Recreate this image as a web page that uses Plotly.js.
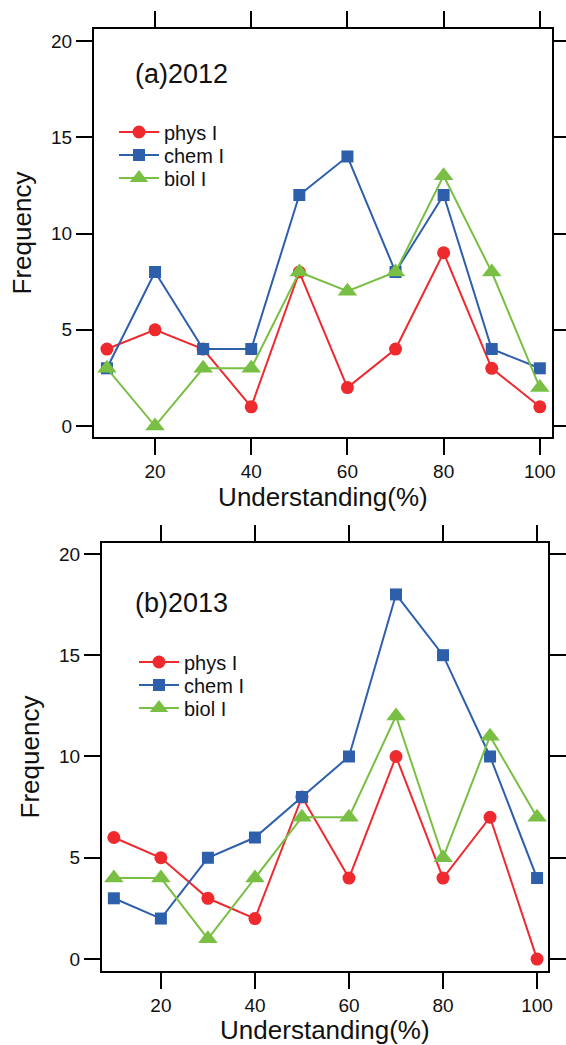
<!DOCTYPE html>
<html>
<head>
<meta charset="utf-8">
<script src="https://cdn.plot.ly/plotly-3.0.1.min.js"></script>
<style>html,body{margin:0;padding:0;background:#fff;}#chart{width:566px;height:1045px;}</style>
</head>
<body>
<div id="chart"></div>
<script>
// Understanding (%) categories
const understanding = [10, 20, 30, 40, 50, 60, 70, 80, 90, 100];
const seriesNames = ["phys I", "chem I", "biol I"];

// (a) 2012
const phys2012 = [4, 5, 4, 1, 8, 2, 4, 9, 3, 1];
const chem2012 = [3, 8, 4, 4, 12, 14, 8, 12, 4, 3];
const biol2012 = [3, 0, 3, 3, 8, 7, 8, 13, 8, 2];

// (b) 2013
const phys2013 = [6, 5, 3, 2, 8, 4, 10, 4, 7, 0];
const chem2013 = [3, 2, 5, 6, 8, 10, 18, 15, 10, 4];
const biol2013 = [4, 4, 1, 4, 7, 7, 12, 5, 11, 7];

const xTicks = [20, 40, 60, 80, 100];
const yTicks = [0, 5, 10, 15, 20];

const RED = "#ee2a2f", BLUE = "#2d5fab", GREEN = "#78bf44";
const FONT = "Liberation Sans, Arial, Helvetica, sans-serif";

function mk(y, name, color, symbol, size, xa, ya, legend) {
  return {
    x: understanding, y: y, name: name, type: "scatter", mode: "lines+markers",
    line: {color: color, width: 2},
    marker: {color: color, symbol: symbol, size: size},
    xaxis: xa, yaxis: ya, legend: legend, cliponaxis: false
  };
}

const data = [
  mk(phys2012, seriesNames[0], RED, "circle", 13, "x", "y", "legend"),
  mk(chem2012, seriesNames[1], BLUE, "square", 12, "x", "y", "legend2"),
  mk(biol2012, seriesNames[2], GREEN, "triangle-up", 17, "x", "y", "legend3"),
  mk(phys2013, seriesNames[0], RED, "circle", 13, "x2", "y2", "legend4"),
  mk(chem2013, seriesNames[1], BLUE, "square", 12, "x2", "y2", "legend5"),
  mk(biol2013, seriesNames[2], GREEN, "triangle-up", 17, "x2", "y2", "legend6")
];

function xax(domain, range, anchor) {
  return {
    domain: domain, range: range, anchor: anchor,
    tickvals: xTicks, ticktext: xTicks.map(String),
    ticks: "outside", ticklen: 16, tickwidth: 2, tickcolor: "#000",
    showline: true, linecolor: "#000", linewidth: 2, mirror: "allticks",
    showgrid: false, zeroline: false,
    tickfont: {family: FONT, size: 19, color: "#111"},
    title: {text: "Understanding(%)", font: {family: FONT, size: 26, color: "#111"}, standoff: 0}
  };
}
function yax(domain, range, anchor) {
  return {
    domain: domain, range: range, anchor: anchor,
    tickvals: yTicks, ticktext: yTicks.map(String),
    ticks: "outside", ticklen: 16, tickwidth: 2, tickcolor: "#000",
    showline: true, linecolor: "#000", linewidth: 2, mirror: "allticks",
    showgrid: false, zeroline: false,
    tickfont: {family: FONT, size: 19, color: "#111"},
    title: {text: "Frequency", font: {family: FONT, size: 26, color: "#111"}, standoff: 12}
  };
}

function leg(xpx, ypx) {
  return {x: xpx / 566, y: 1 - ypx / 1045, xanchor: "left", yanchor: "middle",
          bgcolor: "rgba(0,0,0,0)", borderwidth: 0,
          font: {family: FONT, size: 20, color: "#111"}, itemwidth: 40};
}

const layout = {
  width: 566, height: 1045,
  margin: {l: 0, r: 0, t: 0, b: 0},
  paper_bgcolor: "#fff", plot_bgcolor: "#fff",
  font: {family: FONT, color: "#111"},
  showlegend: true,
  xaxis: xax([0.166, 0.975], [7.3, 102.5], "y"),
  yaxis: yax([0.5818, 0.9722], [-0.57, 20.62], "x"),
  xaxis2: xax([0.180, 0.968], [7.45, 102.3], "y2"),
  yaxis2: yax([0.0708, 0.4804], [-0.59, 20.54], "x2"),
  legend: leg(114, 132),
  legend2: leg(114, 155),
  legend3: leg(114, 178),
  legend4: leg(134, 662),
  legend5: leg(134, 685),
  legend6: leg(134, 708),
  annotations: [
    {text: "(a)2012", xref: "x domain", yref: "y domain", x: 0.085, y: 0.89, xanchor: "left", yanchor: "middle",
     showarrow: false, font: {family: FONT, size: 27, color: "#111"}},
    {text: "(b)2013", xref: "x2 domain", yref: "y2 domain", x: 0.0695, y: 0.86, xanchor: "left", yanchor: "middle",
     showarrow: false, font: {family: FONT, size: 27, color: "#111"}}
  ]
};

Plotly.newPlot("chart", data, layout, {displayModeBar: false, staticPlot: true});
</script>
</body>
</html>
